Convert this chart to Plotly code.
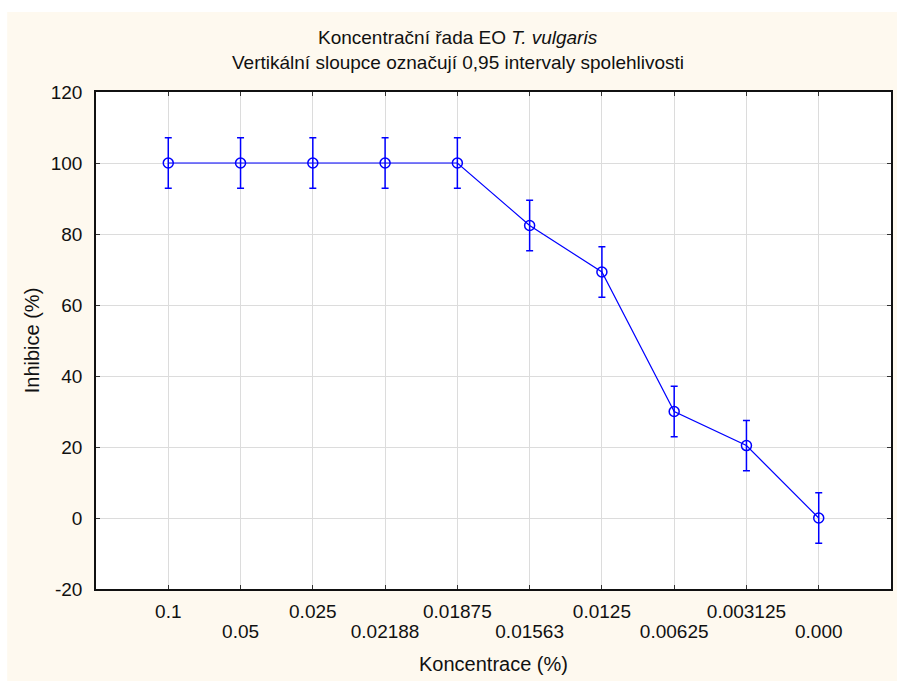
import plotly.graph_objects as go

# Concentration series (categorical positions 1..10)
concentrations = ["0.1", "0.05", "0.025", "0.02188", "0.01875",
                  "0.01563", "0.0125", "0.00625", "0.003125", "0.000"]
inhibition = [100, 100, 100, 100, 100, 82.4, 69.3, 30.0, 20.4, 0.0]
ci95 = [7.1, 7.1, 7.1, 7.1, 7.1, 7.1, 7.1, 7.1, 7.1, 7.1]
y_ticks = [-20, 0, 20, 40, 60, 80, 100, 120]

positions = list(range(1, len(concentrations) + 1))
# labels alternate between an upper row (xaxis) and a lower row (xaxis2)
upper_pos = positions[0::2]
lower_pos = positions[1::2]
lower_txt = concentrations[1::2]

BLUE = "#0000FF"
CREAM = "#FEF9EF"
GRID = "#DCDCDC"
INK = "#111111"
FONT = "Liberation Sans, Arial, sans-serif"

fig = go.Figure()
fig.add_trace(go.Scatter(
    x=positions,
    y=inhibition,
    mode="lines+markers",
    line=dict(color=BLUE, width=1.2),
    marker=dict(symbol="circle-open", size=10, color=BLUE, line=dict(width=1.5, color=BLUE)),
    error_y=dict(type="data", array=ci95, symmetric=True, color=BLUE, thickness=1.5, width=3.5),
    showlegend=False,
    cliponaxis=False,
    hoverinfo="x+y",
))
# invisible copy bound to the lower label row so that axis is drawn
fig.add_trace(go.Scatter(
    x=positions, y=inhibition, xaxis="x2", mode="markers",
    marker=dict(opacity=0), showlegend=False, hoverinfo="skip",
))

W, H = 897, 681
L, R, T, B = 96, 4, 92, 92
plot_h = H - T - B


def py(pix):
    """pixel row -> paper y"""
    return (H - B - pix) / plot_h


def px(pix):
    """pixel column -> paper x"""
    return (pix - L) / (W - L - R)


common_x = dict(range=[0, 11], tickmode="array", zeroline=False,
                tickfont=dict(size=19, color=INK))

fig.update_layout(
    width=W, height=H,
    margin=dict(l=L, r=R, t=T, b=B),
    paper_bgcolor=CREAM,
    plot_bgcolor="white",
    font=dict(family=FONT, size=19, color=INK),
    xaxis=dict(
        **common_x,
        tickvals=positions, ticktext=[t if p in upper_pos else "" for p, t in zip(positions, concentrations)],
        showgrid=True, gridcolor=GRID, gridwidth=1,
        showline=True, linecolor=INK, linewidth=1.5, mirror="ticks",
        ticks="inside", ticklen=4, tickcolor="#333333",
        ticklabelstandoff=4,
    ),
    xaxis2=dict(
        **common_x,
        overlaying="x", anchor="y", side="bottom",
        tickvals=lower_pos, ticktext=lower_txt,
        showgrid=False, showline=False, ticks="",
        ticklabelstandoff=29,
        title=dict(text="Koncentrace (%)", standoff=15, font=dict(size=20, color=INK)),
    ),
    yaxis=dict(
        range=[-20, 120],
        tickmode="array", tickvals=y_ticks, ticktext=[str(v) for v in y_ticks],
        tickfont=dict(size=19, color=INK),
        showgrid=True, gridcolor=GRID, gridwidth=1,
        showline=True, linecolor=INK, linewidth=1.5, mirror="ticks",
        ticks="inside", ticklen=4, tickcolor="#333333",
        zeroline=False,
        title=dict(text="Inhibice (%)", standoff=6, font=dict(size=20, color=INK)),
        ticklabelstandoff=8,
    ),
    shapes=[
        # white border strips around the cream panel
        dict(type="rect", xref="paper", yref="paper", x0=px(-5), x1=px(7), y0=py(690), y1=py(-5),
             fillcolor="white", line=dict(width=0), layer="below"),
        dict(type="rect", xref="paper", yref="paper", x0=px(-5), x1=px(905), y0=py(12), y1=py(-5),
             fillcolor="white", line=dict(width=0), layer="below"),
    ],
    annotations=[
        dict(text="Koncentrační řada EO <i>T. vulgaris</i>", xref="paper", yref="paper",
             x=px(459), y=py(37), xanchor="center", yanchor="middle", showarrow=False,
             font=dict(size=19, color=INK)),
        dict(text="Vertikální sloupce označují 0,95 intervaly spolehlivosti", xref="paper", yref="paper",
             x=px(459), y=py(62), xanchor="center", yanchor="middle", showarrow=False,
             font=dict(size=19, color=INK)),
    ],
)

fig.write_html("out.html")
